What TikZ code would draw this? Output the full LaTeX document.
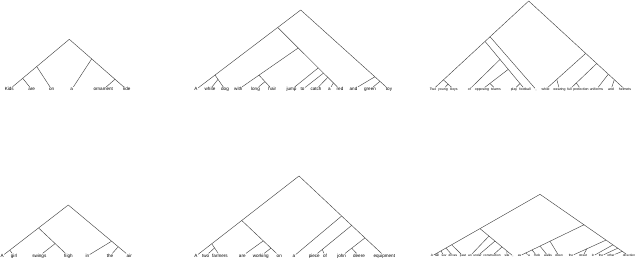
\documentclass[tikz,border=0pt]{standalone}
\usepackage{fontspec}
\setmainfont{Liberation Sans}
\usetikzlibrary{calc}
\tikzset{
  lf/.style={font=\fontsize{4.6}{4.6}\selectfont, inner sep=0.4pt, text height=3.2pt, text depth=0.9pt},
  lfs/.style={font=\fontsize{3.5}{3.5}\selectfont, inner sep=0.4pt, text height=2.5pt, text depth=0.7pt},
  lft/.style={font=\fontsize{3.2}{3.2}\selectfont, inner sep=0.4pt, text height=2.3pt, text depth=0.6pt},
  br/.style={draw=black!72, line width=0.45pt},
}
\begin{document}
\begin{tikzpicture}[x=1pt,y=-1pt]
\useasboundingbox (0,0) rectangle (640,259);

% ---------- Tree 1 ----------
\node[lf] (a1) at (9.3,89.5) {Kids};
\node[lf] (a2) at (31.7,89.5) {are};
\node[lf] (a3) at (51.7,89.5) {on};
\node[lf] (a4) at (71.7,89.5) {a};
\node[lf] (a5) at (103.3,89.5) {ornament};
\node[lf] (a6) at (126.7,89.5) {ride};
\coordinate (ar) at (69.3,39.3);
\coordinate (aA) at ($(ar)!0.543!(a1)$);
\coordinate (aB) at ($(aA)!0.511!(a1)$);
\coordinate (aC) at ($(ar)!0.39!(a6)$);
\coordinate (aD) at ($(aC)!0.666!(a6)$);
\draw[br] (ar) -- (aA) -- (aB) -- (a1);
\draw[br] (aB) -- (a2);
\draw[br] (aA) -- (a3);
\draw[br] (ar) -- (aC) -- (aD) -- (a6);
\draw[br] (aC) -- (a4);
\draw[br] (aD) -- (a5);

% ---------- Tree 2 ----------
\node[lf] (b1) at (196,89.5) {A};
\node[lf] (b2) at (210,89.5) {white};
\node[lf] (b3) at (225,89.5) {dog};
\node[lf] (b4) at (238.3,89.5) {with};
\node[lf] (b5) at (255.5,89.5) {long};
\node[lf] (b6) at (272.3,89.5) {hair};
\node[lf] (b7) at (291.5,89.5) {jump};
\node[lf] (b8) at (302.5,89.5) {to};
\node[lf] (b9) at (316,89.5) {catch};
\node[lf] (b10) at (329.5,89.5) {a};
\node[lf] (b11) at (340,89.5) {red};
\node[lf] (b12) at (353.5,89.5) {and};
\node[lf] (b13) at (370,89.5) {green};
\node[lf] (b14) at (389,89.5) {toy};
\coordinate (br0) at (300.7,10);
\coordinate (bP) at ($(br0)!0.22!(b1)$);
\coordinate (bADW) at ($(bP)!0.767!(b1)$);
\coordinate (bWD) at ($(bADW)!0.3!(b3)$);
\coordinate (bQ) at ($(bP)!0.33!(b11)$);
\coordinate (bWLH) at ($(bQ)!0.655!(b4)$);
\coordinate (bLH) at ($(bWLH)!0.45!(b6)$);
\coordinate (bJ1) at ($(bQ)!0.48!(b11)$);
\coordinate (bJ2) at ($(bJ1)!0.24!(b11)$);
\coordinate (bJ3) at ($(bJ2)!0.26!(b11)$);
\coordinate (bJ4) at ($(bJ3)!0.46!(b11)$);
\coordinate (bR) at ($(br0)!0.84!(b14)$);
\coordinate (bGT) at ($(bR)!0.36!(b14)$);
\draw[br] (br0) -- (bP) -- (bADW) -- (b1);
\draw[br] (bADW) -- (bWD) -- (b3);
\draw[br] (bWD) -- (b2);
\draw[br] (bP) -- (bQ) -- (bJ1) -- (bJ2) -- (bJ3) -- (bJ4) -- (b11);
\draw[br] (bQ) -- (bWLH) -- (b4);
\draw[br] (bWLH) -- (bLH) -- (b6);
\draw[br] (bLH) -- (b5);
\draw[br] (bJ1) -- (b7);
\draw[br] (bJ2) -- (b8);
\draw[br] (bJ3) -- (b9);
\draw[br] (bJ4) -- (b10);
\draw[br] (br0) -- (bR) -- (bGT) -- (b14);
\draw[br] (bR) -- (b12);
\draw[br] (bGT) -- (b13);

% ---------- Tree 3 ----------
\node[lfs] (c1) at (433,89.5) {Two};
\node[lfs] (c2) at (443,89.5) {young};
\node[lfs] (c3) at (454,89.5) {boys};
\node[lfs] (c4) at (469.3,89.5) {of};
\node[lfs] (c5) at (482,89.5) {opposing};
\node[lfs] (c6) at (496,89.5) {teams};
\node[lfs] (c7) at (514,89.5) {play};
\node[lfs] (c8) at (525,89.5) {football};
\node[lfs] (c9) at (536,89.5) {,};
\node[lfs] (c10) at (545.5,89.5) {while};
\node[lfs] (c11) at (559.5,89.5) {wearing};
\node[lfs] (c12) at (569.5,89.5) {full};
\node[lfs] (c13) at (581,89.5) {protection};
\node[lfs] (c14) at (596.5,89.5) {uniforms};
\node[lfs] (c15) at (611,89.5) {and};
\node[lfs] (c16) at (625,89.5) {helmets};
\coordinate (cr) at (528.7,1);
\coordinate (cX1) at ($(cr)!0.404!(c1)$);
\coordinate (cX2) at ($(cX1)!0.088!(c1)$);
\coordinate (cT) at ($(cX2)!0.8!(c1)$);
\coordinate (cYB) at ($(cT)!0.44!(c3)$);
\coordinate (cY) at ($(cX2)!0.375!(c8)$);
\coordinate (cZ) at ($(cY)!0.33!(c8)$);
\coordinate (cOT) at ($(cZ)!0.7!(c5)$);
\coordinate (cPF) at ($(cZ)!0.7!(c8)$);
\coordinate (cR) at ($(cr)!0.592!(c16)$);
\coordinate (cWW) at ($(cR)!0.72!(c10)$);
\coordinate (cFH) at ($(cR)!0.28!(c16)$);
\coordinate (cFP) at ($(cFH)!0.75!(c12)$);
\coordinate (cUAH) at ($(cFH)!0.41!(c16)$);
\coordinate (cAH) at ($(cUAH)!0.36!(c16)$);
\draw[br] (cr) -- (cX1) -- (cX2) -- (cT) -- (c1);
\draw[br] (cX1) -- (c9);
\draw[br] (cX2) -- (cY) -- (cZ) -- (cPF) -- (c8);
\draw[br] (cT) -- (cYB) -- (c3);
\draw[br] (cYB) -- (c2);
\draw[br] (cY) -- (c4);
\draw[br] (cZ) -- (cOT) -- (c5);
\draw[br] (cOT) -- (c6);
\draw[br] (cPF) -- (c7);
\draw[br] (cr) -- (cR) -- (cFH) -- (cUAH) -- (cAH) -- (c16);
\draw[br] (cR) -- (cWW) -- (c10);
\draw[br] (cWW) -- (c11);
\draw[br] (cFH) -- (cFP) -- (c12);
\draw[br] (cFP) -- (c13);
\draw[br] (cUAH) -- (c14);
\draw[br] (cAH) -- (c15);

% ---------- Tree 4 ----------
\node[lf] (d1) at (2.2,256) {A};
\node[lf] (d2) at (14,256) {girl};
\node[lf] (d3) at (39.3,256) {swings};
\node[lf] (d4) at (68.3,256) {high};
\node[lf] (d5) at (87.3,256) {in};
\node[lf] (d6) at (110,256) {the};
\node[lf] (d7) at (129.3,256) {air};
\coordinate (dr) at (68.3,205);
\coordinate (dL) at ($(dr)!0.45!(d1)$);
\coordinate (dAG) at ($(dL)!0.79!(d1)$);
\coordinate (dSH) at ($(dL)!0.557!(d4)$);
\coordinate (dR) at ($(dr)!0.71!(d7)$);
\coordinate (dTA) at ($(dR)!0.375!(d7)$);
\draw[br] (dr) -- (dL) -- (dAG) -- (d1);
\draw[br] (dAG) -- (d2);
\draw[br] (dL) -- (dSH) -- (d4);
\draw[br] (dSH) -- (d3);
\draw[br] (dr) -- (dR) -- (dTA) -- (d7);
\draw[br] (dR) -- (d5);
\draw[br] (dTA) -- (d6);

% ---------- Tree 5 ----------
\node[lf] (e1) at (196,256) {A};
\node[lf] (e2) at (205.7,256) {two};
\node[lf] (e3) at (220,256) {farmers};
\node[lf] (e4) at (242.3,256) {are};
\node[lf] (e5) at (260.7,256) {working};
\node[lf] (e6) at (279.3,256) {on};
\node[lf] (e7) at (294,256) {a};
\node[lf] (e8) at (314.3,256) {piece};
\node[lf] (e9) at (325,256) {of};
\node[lf] (e10) at (341.7,256) {john};
\node[lf] (e11) at (359,256) {deere};
\node[lf] (e12) at (384.3,256) {equipment};
\coordinate (er) at (299,176);
\coordinate (eL) at ($(er)!0.556!(e1)$);
\coordinate (eATF) at ($(eL)!0.656!(e1)$);
\coordinate (eTF) at ($(eATF)!0.34!(e3)$);
\coordinate (eAWO) at ($(eL)!0.574!(e6)$);
\coordinate (eWO) at ($(eAWO)!0.48!(e6)$);
\coordinate (eR) at ($(er)!0.5!(e12)$);
\coordinate (eR2) at ($(eR)!0.235!(e12)$);
\coordinate (ePO) at ($(eR2)!0.786!(e8)$);
\coordinate (eJDE) at ($(eR2)!0.408!(e12)$);
\coordinate (eJD) at ($(eJDE)!0.57!(e10)$);
\draw[br] (er) -- (eL) -- (eATF) -- (e1);
\draw[br] (eATF) -- (eTF) -- (e3);
\draw[br] (eTF) -- (e2);
\draw[br] (eL) -- (eAWO) -- (eWO) -- (e6);
\draw[br] (eAWO) -- (e4);
\draw[br] (eWO) -- (e5);
\draw[br] (er) -- (eR) -- (eR2) -- (eJDE) -- (e12);
\draw[br] (eR) -- (e7);
\draw[br] (eR2) -- (ePO) -- (e8);
\draw[br] (ePO) -- (e9);
\draw[br] (eJDE) -- (eJD) -- (e10);
\draw[br] (eJD) -- (e11);

% ---------- Tree 6 ----------
\node[lft] (f1) at (432,256) {A};
\node[lft] (f2) at (437,256) {tall};
\node[lft] (f3) at (444,256) {suv};
\node[lft] (f4) at (453,256) {drives};
\node[lft] (f5) at (463,256) {past};
\node[lft] (f6) at (470,256) {an};
\node[lft] (f7) at (477.5,256) {under};
\node[lft] (f8) at (492,256) {construction};
\node[lft] (f9) at (507,256) {site};
\node[lft] (f10) at (513,256) {,};
\node[lft] (f11) at (519.5,256) {as};
\node[lft] (f12) at (529,256) {a};
\node[lft] (f13) at (537,256) {mob};
\node[lft] (f14) at (548,256) {walks};
\node[lft] (f15) at (559,256) {down};
\node[lft] (f16) at (571,256) {the};
\node[lft] (f17) at (583,256) {street};
\node[lft] (f18) at (593,256) {in};
\node[lft] (f19) at (601,256) {the};
\node[lft] (f20) at (611,256) {other};
\node[lft] (f21) at (629,256) {direction};
\coordinate (fr) at (540,194.3);
\coordinate (fL) at ($(fr)!0.556!(f1)$);
\coordinate (fLL) at ($(fL)!0.59!(f1)$);
\coordinate (fLL2) at ($(fLL)!0.29!(f1)$);
\coordinate (fLL3) at ($(fLL2)!0.357!(f1)$);
\coordinate (fLL4) at ($(fLL3)!0.44!(f1)$);
\coordinate (fLR) at ($(fL)!0.273!(f10)$);
\coordinate (fLR2) at ($(fLR)!0.25!(f10)$);
\coordinate (fLR3) at ($(fLR2)!0.39!(f10)$);
\coordinate (fLR4) at ($(fLR3)!0.45!(f10)$);
\coordinate (fR) at ($(fr)!0.494!(f21)$);
\coordinate (fRA) at ($(fR)!0.527!(f11)$);
\coordinate (fRB) at ($(fRA)!0.328!(f11)$);
\coordinate (fRC) at ($(fRB)!0.39!(f11)$);
\coordinate (fRD) at ($(fRC)!0.5!(f11)$);
\coordinate (fRR) at ($(fR)!0.49!(f21)$);
\coordinate (fTS) at ($(fRR)!0.55!(f16)$);
\coordinate (fI) at ($(fRR)!0.3!(f21)$);
\coordinate (fT2) at ($(fI)!0.3!(f21)$);
\coordinate (fOD) at ($(fT2)!0.4!(f21)$);
\draw[br] (fr) -- (fL) -- (fLL) -- (fLL2) -- (fLL3) -- (fLL4) -- (f1);
\draw[br] (fLL) -- (f5);
\draw[br] (fLL2) -- (f4);
\draw[br] (fLL3) -- (f3);
\draw[br] (fLL4) -- (f2);
\draw[br] (fL) -- (fLR) -- (fLR2) -- (fLR3) -- (fLR4) -- (f10);
\draw[br] (fLR) -- (f6);
\draw[br] (fLR2) -- (f7);
\draw[br] (fLR3) -- (f8);
\draw[br] (fLR4) -- (f9);
\draw[br] (fr) -- (fR) -- (fRA) -- (fRB) -- (fRC) -- (fRD) -- (f11);
\draw[br] (fRA) -- (f15);
\draw[br] (fRB) -- (f14);
\draw[br] (fRC) -- (f13);
\draw[br] (fRD) -- (f12);
\draw[br] (fR) -- (fRR) -- (fI) -- (fT2) -- (fOD) -- (f21);
\draw[br] (fRR) -- (fTS) -- (f16);
\draw[br] (fTS) -- (f17);
\draw[br] (fI) -- (f18);
\draw[br] (fT2) -- (f19);
\draw[br] (fOD) -- (f20);
\end{tikzpicture}
\end{document}
